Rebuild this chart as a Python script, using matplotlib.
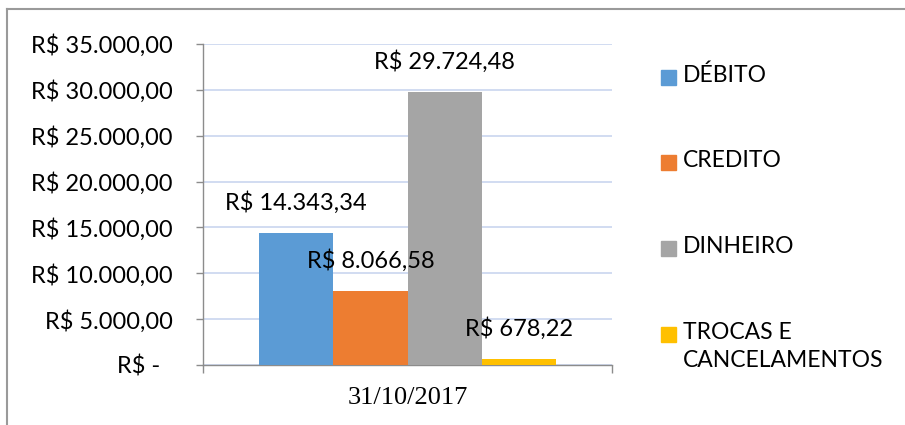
import matplotlib.pyplot as plt
from matplotlib.patches import Rectangle
from matplotlib.lines import Line2D

categoria = "31/10/2017"
series = ["DÉBITO", "CREDITO", "DINHEIRO", "TROCAS E\nCANCELAMENTOS"]
valores = [14343.34, 8066.58, 29724.48, 678.22]
cores = ["#5B9BD5", "#ED7D31", "#A5A5A5", "#FFC000"]
yticks = [0, 5000, 10000, 15000, 20000, 25000, 30000, 35000]


def reais(v):
    if v == 0:
        return "R$ -  "
    s = f"{v:,.2f}".replace(",", "X").replace(".", ",").replace("X", ".")
    return "R$ " + s


fonte = "Lato"
tam = 17

fig = plt.figure(figsize=(9.05, 4.25), dpi=100)
ax = fig.add_axes([203 / 905, 60 / 425, 409 / 905, 321 / 425])

largura = 0.1815
for i, (nome, v, c) in enumerate(zip(series, valores, cores)):
    x = (i - 1.5) * largura
    ax.bar(x, v, width=largura, color=c, zorder=3)
    ax.annotate(reais(v), (x, v), xytext=(0, 22), textcoords="offset points",
                ha="center", va="center", fontsize=tam, family=fonte, zorder=4)

ax.set_xlim(-0.5, 0.5)
ax.set_ylim(0, 35000)
ax.set_yticks(yticks)
ax.set_yticklabels([reais(v) for v in yticks], fontsize=tam, family=fonte)
ax.tick_params(axis="y", length=5, width=1, color="#8c8c8c", pad=17)
ax.yaxis.grid(True, color="#c9d6ef", lw=1.2, zorder=0)

ax.set_xticks([-0.5, 0.5])
ax.set_xticklabels(["", ""])
ax.set_xticks([0], minor=True)
ax.set_xticklabels([categoria], minor=True, fontsize=19, family="Liberation Serif")
ax.tick_params(axis="x", which="major", length=6, width=1, color="#8c8c8c")
ax.tick_params(axis="x", which="minor", length=0, pad=16)

for lado in ["top", "right"]:
    ax.spines[lado].set_visible(False)
for lado in ["left", "bottom"]:
    ax.spines[lado].set_color("#8c8c8c")
    ax.spines[lado].set_linewidth(1)

# legenda manual
ys = [77, 162, 248, 334]
for nome, c, y in zip(series, cores, ys):
    fig.add_artist(Rectangle((661 / 905, (425 - y - 7.5) / 425), 15 / 905, 15 / 425,
                             transform=fig.transFigure, color=c))
    fig.text(683 / 905, (425 - y + 12) / 425, nome, ha="left", va="top",
             fontsize=16.5, family=fonte, linespacing=1.4)

# moldura
fig.add_artist(Line2D([7 / 905, 7 / 905], [-0.1, (425 - 9) / 425],
                      transform=fig.transFigure, color="#9a9a9a", lw=1.5))
fig.add_artist(Line2D([7 / 905, 1.1], [(425 - 9) / 425, (425 - 9) / 425],
                      transform=fig.transFigure, color="#9a9a9a", lw=1.5))

fig.savefig("out.png", dpi=100)
